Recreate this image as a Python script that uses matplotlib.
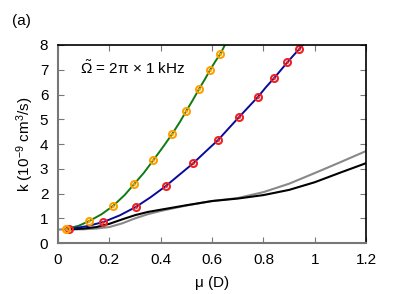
import matplotlib
matplotlib.use("Agg")
import matplotlib.pyplot as plt
import numpy as np

plt.rcParams['font.family'] = ['Liberation Sans', 'DejaVu Sans']
plt.rcParams['font.size'] = 11
plt.rcParams['mathtext.fontset'] = 'custom'
plt.rcParams['mathtext.rm'] = 'Liberation Sans'
plt.rcParams['mathtext.it'] = 'Liberation Sans'

# measured points
mu_orange = [0.031, 0.121, 0.214, 0.296, 0.371, 0.444, 0.499, 0.549, 0.592, 0.632]
k_orange = [0.57, 0.89, 1.50, 2.38, 3.35, 4.40, 5.33, 6.22, 6.99, 7.64]
mu_red = [0.043, 0.176, 0.303, 0.419, 0.526, 0.624, 0.705, 0.779, 0.842, 0.893, 0.939]
k_red = [0.57, 0.85, 1.46, 2.30, 3.22, 4.17, 5.09, 5.91, 6.67, 7.30, 7.83]

# fit curves
mu_green = [0.03, 0.08, 0.121, 0.17, 0.214, 0.26, 0.296, 0.335, 0.371, 0.41, 0.444,
            0.475, 0.499, 0.525, 0.549, 0.572, 0.592, 0.612, 0.632, 0.66]
k_green = [0.57, 0.70, 0.89, 1.17, 1.50, 1.95, 2.38, 2.85, 3.35, 3.90, 4.40,
           4.90, 5.33, 5.78, 6.22, 6.62, 6.99, 7.33, 7.64, 8.2]
mu_blue = [0.043, 0.11, 0.176, 0.24, 0.303, 0.36, 0.419, 0.47, 0.526, 0.575, 0.624,
           0.665, 0.705, 0.742, 0.779, 0.81, 0.842, 0.868, 0.893, 0.916, 0.939, 0.97]
k_blue = [0.57, 0.68, 0.85, 1.12, 1.46, 1.85, 2.30, 2.74, 3.22, 3.70, 4.17,
          4.64, 5.09, 5.50, 5.91, 6.30, 6.67, 6.99, 7.30, 7.57, 7.83, 8.2]

# exact calculations
mu_gray = [0.0, 0.1, 0.15, 0.2, 0.25, 0.3, 0.35, 0.4, 0.5, 0.6, 0.7, 0.8, 0.9, 1.0, 1.1, 1.2]
k_gray = [0.55, 0.56, 0.59, 0.65, 0.80, 1.00, 1.17, 1.30, 1.52, 1.70, 1.82, 2.06, 2.40, 2.83, 3.27, 3.72]
mu_black = [0.05, 0.1, 0.15, 0.2, 0.25, 0.3, 0.35, 0.4, 0.5, 0.6, 0.7, 0.8, 0.9, 1.0, 1.1, 1.2]
k_black = [0.56, 0.59, 0.65, 0.78, 0.96, 1.13, 1.26, 1.35, 1.53, 1.70, 1.80, 1.94, 2.15, 2.46, 2.85, 3.23]

fig = plt.figure(figsize=(3.95, 2.94), dpi=100)
ax = fig.add_axes([0.147, 0.173, 0.780, 0.674])

ax.plot(mu_gray, k_gray, color='#888888', lw=1.5)
ax.plot(mu_black, k_black, color='black', lw=1.5)
ax.plot(mu_green, k_green, color='#117a11', lw=1.4)
ax.plot(mu_blue, k_blue, color='#0a0a9a', lw=1.4)
ax.plot(mu_red, k_red, 'o', mfc='none', mec='#ee2222', ms=5, mew=1.5)
ax.plot(mu_red, k_red, '.', color='#ee2222', ms=2)
ax.plot(mu_orange, k_orange, 'o', mfc='none', mec='#ffa000', ms=5, mew=1.5)
ax.plot(mu_orange, k_orange, '.', color='#ffa000', ms=2)

ax.set_xlim(0, 1.2)
ax.set_ylim(0, 8)
ax.set_xticks([0, 0.2, 0.4, 0.6, 0.8, 1.0, 1.2])
ax.set_xticklabels(['0', '0.2', '0.4', '0.6', '0.8', '1', '1.2'])
ax.set_yticks(range(9))
ax.tick_params(direction='in', top=True, right=True, length=4,
               color='#777777', labelsize=11, pad=7)
for side in ['left', 'bottom']:
    ax.spines[side].set_color('#777777')
    ax.spines[side].set_linewidth(1.5)
for side in ['top', 'right']:
    ax.spines[side].set_color('black')
    ax.spines[side].set_linewidth(1.2)

ax.set_xlabel(r'$\mathrm{\mu}$ (D)', labelpad=5)
ax.set_ylabel(r'k (10$^{-9}$ cm$^3$/s)', labelpad=3)
ax.text(0.07, 0.93, r'$\tilde{\Omega}$ = 2$\mathrm{\pi}$ $\times$ 1 kHz',
        transform=ax.transAxes, va='top', ha='left', fontsize=11)
fig.text(0.03, 0.93, '(a)', fontsize=11, va='center', ha='left')

fig.savefig('out.png', dpi=100)
